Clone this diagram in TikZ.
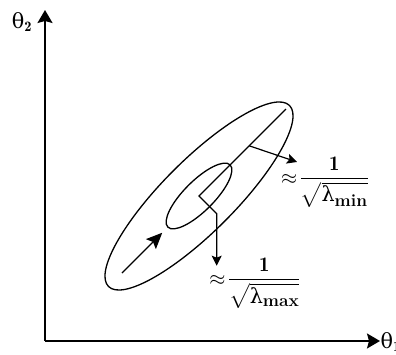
\documentclass[tikz,border=0pt]{standalone}
\usepackage{amsmath,amssymb}
\usepackage{fontspec}
\newfontfamily\grkfont{DejaVu Serif}
\usetikzlibrary{arrows.meta,positioning,calc}
\tikzset{
  axisarrow/.style={-{Stealth[length=13pt,width=15pt,inset=2pt]},line width=1.6pt},
  contour/.style={line width=1.3pt},
  steparrow/.style={-{Stealth[length=16pt,width=14pt,inset=3pt]},line width=1.2pt},
  scalearrow/.style={-{Stealth[length=10pt,width=10pt,inset=2pt]},line width=1.2pt},
  lbl/.style={font=\huge,inner sep=0pt},
}
\newcommand{\thetalbl}[1]{{\grkfont θ}$_{\mathbf{#1}}$}
\newcommand{\invroot}[1]{$\approx\!\dfrac{\mathbf{1}}{\sqrt{\mbox{\grkfont λ}_{\mbox{\bfseries\LARGE #1}}}}$}

\begin{document}
\begin{tikzpicture}[x=1pt,y=1pt]
  \useasboundingbox (0,0) rectangle (396,355);
  \coordinate (O) at (45,14);
  \coordinate (ytip) at (45,345);
  \coordinate (xtip) at (380,14);
  \coordinate (c) at (199,159);
  \draw[axisarrow] (O) -- (ytip);
  \draw[axisarrow] (O) -- (xtip);
  \node[lbl,anchor=west] (t1) at (380.5,13) {\thetalbl{1}};
  \node[lbl] (t2) at (22,333) {\thetalbl{2}};

  \draw[contour,rotate around={45:(c)}] (c) ellipse [x radius=128pt,y radius=36pt];
  \draw[contour,rotate around={45:(c)}] (c) ellipse [x radius=44pt,y radius=15pt];

  \coordinate (majtop) at ($(c)+(45:123)$);
  \coordinate (majlow) at ($(c)+(225:109)$);
  \coordinate (majmid) at ($(c)+(225:52)$);
  \coordinate (minfoot) at ($(c)+(45:71)$);
  \coordinate (mintip) at (297,193);
  \coordinate (perp) at ($(c)+(-45:25)$);
  \coordinate (maxtip) at ($(perp)+(0,-52)$);
  \draw[steparrow] (majlow) -- (majmid);
  \draw[scalearrow] (majtop) -- (c) -- (perp) -- (maxtip);
  \draw[scalearrow] (minfoot) -- (mintip);

  \node[lbl] (lmin) at (325,173) {\invroot{min}};
  \node[lbl] (lmax) at (255,72) {\invroot{max}};
\end{tikzpicture}
\end{document}
